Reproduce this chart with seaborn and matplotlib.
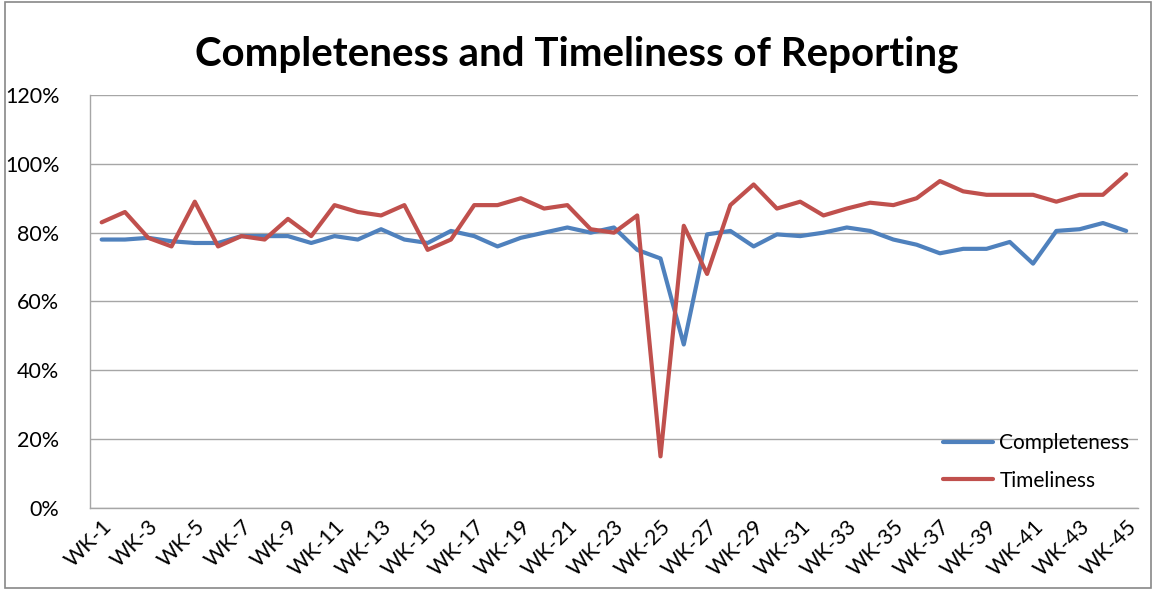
import pandas as pd
import seaborn as sns
import matplotlib.pyplot as plt
from matplotlib.patches import Rectangle
from matplotlib.ticker import PercentFormatter

# Weekly reporting rates (%)
weeks = [f"WK-{i}" for i in range(1, 46)]
completeness = [78, 78, 78.5, 77.5, 77, 77, 79, 79, 79, 77,
                79, 78, 81, 78, 77, 80.5, 79, 76, 78.5, 80,
                81.5, 80, 81.5, 75, 72.5, 47.5, 79.5, 80.5, 76, 79.5,
                79, 80, 81.5, 80.5, 78, 76.5, 74, 75.3, 75.3, 77.3,
                71, 80.5, 81, 82.8, 80.5]
timeliness = [83, 86, 78.5, 76, 89, 76, 79, 78, 84, 79,
              88, 86, 85, 88, 75, 78, 88, 88, 90, 87,
              88, 81, 80, 85, 15, 82, 68, 88, 94, 87,
              89, 85, 87, 88.7, 88, 90, 95, 92, 91, 91,
              91, 89, 91, 91, 97]

df = pd.DataFrame({"week": weeks, "Completeness": completeness, "Timeliness": timeliness})
long_df = df.melt(id_vars="week", var_name="series", value_name="pct")
long_df["pos"] = long_df["week"].map({w: i for i, w in enumerate(weeks)})

sns.set_style("white")
plt.rcParams["font.family"] = ["Lato", "DejaVu Sans"]

fig = plt.figure(figsize=(11.54, 5.90), dpi=100)
ax = fig.add_axes([0.078, 0.139, 0.908, 0.700])

sns.lineplot(data=long_df, x="pos", y="pct", hue="series",
             palette={"Completeness": "#4F81BD", "Timeliness": "#C0504D"},
             linewidth=3.0, ax=ax)

ax.set_ylim(0, 120)
ax.set_yticks(range(0, 121, 20))
ax.yaxis.set_major_formatter(PercentFormatter(decimals=0))
ax.set_xlim(-0.5, len(weeks) - 0.5)
ax.set_xticks(range(0, len(weeks), 2))
ax.set_xticklabels(weeks[::2], rotation=45, ha="right", rotation_mode="anchor")
ax.tick_params(axis="both", labelsize=15.5, colors="black", length=0)
ax.tick_params(axis="y", pad=22)
ax.tick_params(axis="x", pad=6)
ax.set_xlabel("")
ax.set_ylabel("")
ax.grid(axis="y", color="#A6A6A6", linewidth=1)
ax.set_axisbelow(True)
for side in ["top", "right"]:
    ax.spines[side].set_visible(False)
for side in ["left", "bottom"]:
    ax.spines[side].set_color("#A6A6A6")
    ax.spines[side].set_linewidth(1)

leg = ax.legend(loc="lower right", frameon=False, fontsize=15, handlelength=2.4,
                handletextpad=0.3, labelspacing=0.85,
                bbox_to_anchor=(1.0, 0.022), borderaxespad=0)
for t in leg.get_texts():
    t.set_color("black")

fig.suptitle("Completeness and Timeliness of Reporting", fontsize=29,
             fontweight="bold", color="black", y=0.94)

fig.add_artist(Rectangle((0.004, 0.003), 0.993, 0.994, transform=fig.transFigure,
                         fill=False, edgecolor="#888888", linewidth=1.2))

plt.savefig("out.png", dpi=100)
